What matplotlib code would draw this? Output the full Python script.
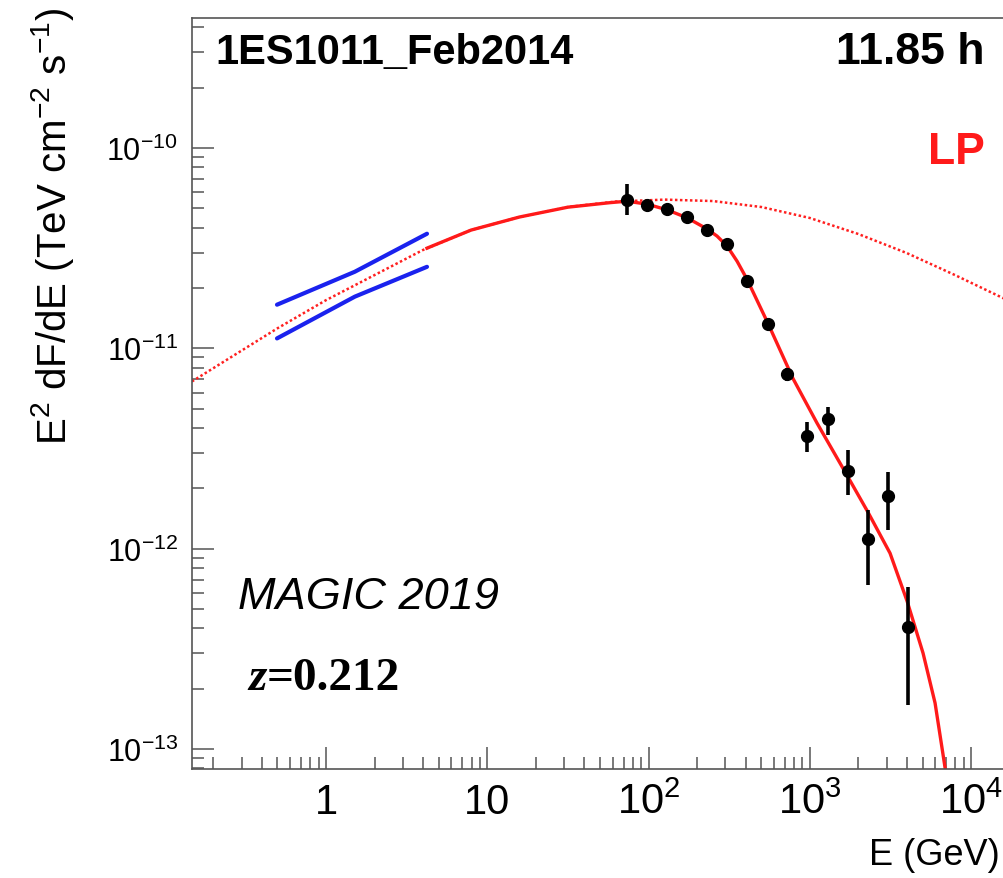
import numpy as np
import matplotlib.pyplot as plt
from matplotlib.ticker import FixedLocator, NullFormatter, LogLocator

plt.rcParams['font.family'] = 'Liberation Sans'
plt.rcParams['mathtext.fontset'] = 'custom'
plt.rcParams['mathtext.rm'] = 'Liberation Sans'
plt.rcParams['mathtext.it'] = 'Liberation Sans:italic'
plt.rcParams['mathtext.bf'] = 'Liberation Sans:bold'

# MAGIC spectral points: E (GeV), E^2 dF/dE (TeV cm^-2 s^-1)
energy = [73.2, 98.3, 130.8, 172.6, 229.6, 305.5, 406.4, 548.6, 719.5,
          966, 1303, 1719, 2288, 3071, 4087]
flux = [5.52e-11, 5.20e-11, 4.93e-11, 4.50e-11, 3.90e-11, 3.30e-11, 2.17e-11,
        1.32e-11, 7.40e-12, 3.66e-12, 4.43e-12, 2.44e-12, 1.12e-12, 1.84e-12,
        4.05e-13]
flux_hi = [6.62e-11, 5.45e-11, 5.15e-11, 4.70e-11, 4.08e-11, 3.46e-11, 2.29e-11,
           1.40e-11, 7.95e-12, 4.30e-12, 5.10e-12, 3.10e-12, 1.56e-12, 2.42e-12,
           6.47e-13]
flux_lo = [4.60e-11, 4.96e-11, 4.72e-11, 4.31e-11, 3.73e-11, 3.15e-11, 2.06e-11,
           1.24e-11, 6.88e-12, 3.05e-12, 3.68e-12, 1.85e-12, 6.59e-13, 1.24e-12,
           1.66e-13]

# Fermi-LAT butterfly
fermi_e = [0.497, 1.51, 4.23]
fermi_hi = [1.65e-11, 2.41e-11, 3.73e-11]
fermi_lo = [1.12e-11, 1.81e-11, 2.55e-11]

# log-parabola, intrinsic (dotted)
lp_e = [0.1476, 0.251, 0.501, 1.0, 1.995, 3.98, 7.94, 15.85, 31.6, 63.1,
        125.9, 251, 501, 1000, 1995, 3981, 7943, 16030]
lp_f = [6.83e-12, 8.91e-12, 1.259e-11, 1.738e-11, 2.317e-11, 3.09e-11,
        3.89e-11, 4.52e-11, 5.07e-11, 5.40e-11, 5.52e-11, 5.43e-11, 5.07e-11,
        4.47e-11, 3.72e-11, 2.99e-11, 2.32e-11, 1.77e-11]

# log-parabola with EBL absorption (solid)
abs_e = [4.23, 7.94, 15.85, 31.6, 57.7, 73.6, 97.9, 130.3, 173.3, 230.6, 266,
         306.7, 354, 408, 550.6, 787, 1109, 1703, 2297, 3145, 4012, 5038, 5980,
         6901, 7410]
abs_f = [3.16e-11, 3.89e-11, 4.52e-11, 5.06e-11, 5.33e-11, 5.42e-11, 5.24e-11,
         4.91e-11, 4.48e-11, 3.94e-11, 3.63e-11, 3.24e-11, 2.72e-11, 2.21e-11,
         1.33e-11, 7.06e-12, 4.23e-12, 2.32e-12, 1.518e-12, 9.49e-13, 5.47e-13,
         3.01e-13, 1.697e-13, 8.05e-14, 5.71e-14]

fig = plt.figure(figsize=(10.04, 8.79), dpi=100)
ax = fig.add_axes([0.1912, 0.124, 0.8088, 0.8544])
ax.set_xscale('log')
ax.set_yscale('log')
ax.set_xlim(0.1476, 1.6e4)
ax.set_ylim(7.95e-14, 4.45e-10)

ax.plot(lp_e, lp_f, color='#ff2020', lw=1.8, ls=(0, (1, 1)))
ax.plot(abs_e, abs_f, color='#ff1a1a', lw=2.4, solid_joinstyle='round')
ax.plot(fermi_e, fermi_hi, color='#1a22ee', lw=3.0, solid_capstyle='round')
ax.plot(fermi_e, fermi_lo, color='#1a22ee', lw=3.0, solid_capstyle='round')

flux = np.array(flux)
yerr = [flux - np.array(flux_lo), np.array(flux_hi) - flux]
ax.errorbar(energy, flux, yerr=yerr, fmt='o', color='black', ms=8.5,
            elinewidth=2.6, capsize=0)

# ROOT-like frame and ticks
for s in ax.spines.values():
    s.set_color('#555555')
    s.set_linewidth(1.2)
ax.xaxis.set_major_locator(FixedLocator([1, 10, 100, 1000, 10000]))
ax.set_xticklabels(['1', '10', '$10^{2}$', '$10^{3}$', '$10^{4}$'])
ax.xaxis.set_minor_locator(LogLocator(base=10, subs=np.arange(2, 10), numticks=20))
ax.xaxis.set_minor_formatter(NullFormatter())
ax.yaxis.set_major_locator(FixedLocator([1e-13, 1e-12, 1e-11, 1e-10]))
ax.set_yticklabels(['$10^{-13}$', '$10^{-12}$', '$10^{-11}$', '$10^{-10}$'])
ax.yaxis.set_minor_locator(LogLocator(base=10, subs=np.arange(2, 10), numticks=20))
ax.yaxis.set_minor_formatter(NullFormatter())
ax.tick_params(which='both', direction='in', color='#555555', width=1.1,
               top=False, right=False)
ax.tick_params(which='major', length=16)
ax.tick_params(which='minor', length=8.5)
ax.tick_params(axis='x', which='major', labelsize=30, pad=9)
ax.tick_params(axis='y', which='major', labelsize=22, pad=10)

fig.text(0.052, 0.991, 'E$^{2}$ dF/dE (TeV cm$^{-2}$ s$^{-1}$)', rotation=90,
         ha='center', va='top', fontsize=29)
fig.text(0.996, 0.027, 'E (GeV)', ha='right', va='center', fontsize=26)

fig.text(0.2141, 0.940, '1ES1011_Feb2014', ha='left', va='center',
         fontsize=30, fontweight='bold')
fig.text(0.981, 0.940, '11.85 h', ha='right', va='center',
         fontsize=32, fontweight='bold')
fig.text(0.981, 0.827, 'LP', ha='right', va='center', color='#ff1a1a',
         fontsize=32, fontweight='bold')
fig.text(0.237, 0.3197, 'MAGIC 2019', ha='left', va='center',
         fontsize=32.5, fontstyle='italic')
zt = fig.text(0.247, 0.215, 'z', ha='left', va='baseline', fontsize=34,
              family='Liberation Serif', fontstyle='italic', fontweight='bold')
ax.annotate('=0.212', xy=(1, 0), xycoords=zt, va='bottom', ha='left',
            fontsize=34, family='Liberation Serif', fontweight='bold',
            annotation_clip=False)

fig.savefig('out.png', dpi=100)
